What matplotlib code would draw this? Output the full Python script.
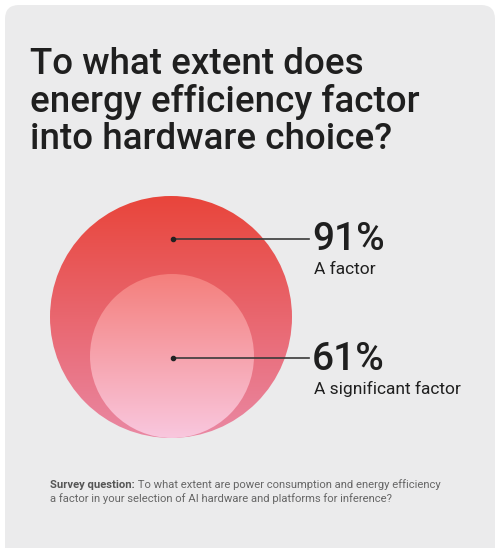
import numpy as np
import matplotlib
matplotlib.use("Agg")
import matplotlib.pyplot as plt
from matplotlib.patches import Circle, FancyBboxPatch
from matplotlib.colors import LinearSegmentedColormap

title = "To what extent does\nenergy efficiency factor\ninto hardware choice?"
values = [91, 61]
labels = ["A factor", "A significant factor"]
note_bold = "Survey question:"
note_rest = " To what extent are power consumption and energy efficiency"
note_line2 = "a factor in your selection of AI hardware and platforms for inference?"

plt.rcParams['font.family'] = ['Roboto', 'DejaVu Sans']
fig = plt.figure(figsize=(5, 5.48), dpi=100)
ax = fig.add_axes([0, 0, 1, 1])
ax.set_xlim(0, 500); ax.set_ylim(548, 0); ax.axis('off')
fig.patch.set_facecolor('white')
ax.add_patch(FancyBboxPatch((5, 5), 490, 560, boxstyle="round,pad=0,rounding_size=14",
                            fc='#ebebec', ec='none'))

ax.text(30, 47, title, fontsize=26.5, color='#1f1f1f', va='top', ha='left',
        linespacing=1.08, fontweight='medium')

circles = [  # (cx, cy, r, top color, bottom color)
    (171, 317, 121, '#e8453b', '#ea88a3'),
    (172, 356, 82, '#f47f7c', '#f9c7de'),
]
for cx, cy, r, c1, c2 in circles:
    cmap = LinearSegmentedColormap.from_list('g', [c1, c2])
    grad = np.linspace(0, 1, 256).reshape(-1, 1)
    im = ax.imshow(grad, cmap=cmap, extent=(cx - r, cx + r, cy + r, cy - r),
                   aspect='auto', zorder=2)
    clip = Circle((cx, cy), r, transform=ax.transData)
    im.set_clip_path(clip)
ax.set_xlim(0, 500); ax.set_ylim(548, 0)

ys = [239, 358]
for y, v, lab in zip(ys, values, labels):
    ax.plot([173, 309], [y, y], color='#3a3a3a', lw=1.2, zorder=3)
    ax.plot(173, y, 'o', color='#222222', ms=3, zorder=4)
    ax.text(312, y + 1, f"{v}%", fontsize=28, color='#1f1f1f', va='center', ha='left',
            fontweight='medium')
    ax.text(314, y + 31, lab, fontsize=12.5, color='#1f1f1f', va='center', ha='left')

t = ax.text(50, 485, note_bold, fontsize=8.1, color='#555555', fontweight='bold', va='center')
fig.canvas.draw()
bb = t.get_window_extent()
x2 = ax.transData.inverted().transform((bb.x1, bb.y0))[0]
ax.text(x2, 485, note_rest, fontsize=8.1, color='#666666', va='center')
ax.text(50, 499, note_line2, fontsize=8.1, color='#666666', va='center')

fig.savefig('out.png', dpi=100)
